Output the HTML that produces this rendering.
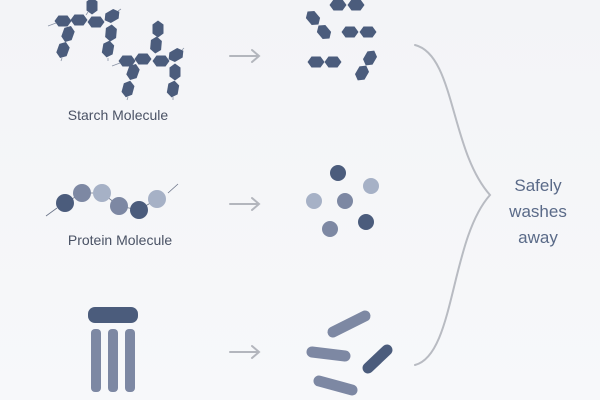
<!DOCTYPE html>
<html><head><style>body{margin:0;background:#f4f5f8;}svg{display:block}</style></head><body>
<svg width="600" height="400" viewBox="0 0 600 400" xmlns="http://www.w3.org/2000/svg">
<defs>
<linearGradient id="bg" x1="0" y1="0" x2="0" y2="1"><stop offset="0" stop-color="#f3f4f7"/><stop offset="1" stop-color="#f7f8fa"/></linearGradient>
<polygon id="h" points="-8.5,0 -4.5,-5.5 4.5,-5.5 8.5,0 4.5,5.5 -4.5,5.5" fill="#4b5c7c"/>
</defs>
<rect width="600" height="400" fill="url(#bg)"/>
<g stroke="#8a93a5" stroke-width="0.8">
<line x1="48" y1="26" x2="56" y2="23"/><line x1="86" y1="15" x2="88" y2="12"/><line x1="118" y1="11" x2="121" y2="9"/>
<line x1="108" y1="58" x2="108" y2="61"/><line x1="62" y1="58" x2="61" y2="61"/>
<line x1="112" y1="66" x2="120" y2="63"/><line x1="182" y1="50" x2="184" y2="48"/>
<line x1="128" y1="97" x2="127" y2="100"/><line x1="173" y1="97" x2="173" y2="100"/>
</g>
<g>
<use href="#h" x="63" y="21"/><use href="#h" x="79" y="20"/><use href="#h" x="96" y="22"/>
<use href="#h" transform="translate(112,16) rotate(-30)"/>
<use href="#h" transform="translate(92,6) rotate(-90)"/>
<use href="#h" transform="translate(68,34) rotate(-70)"/>
<use href="#h" transform="translate(63,50) rotate(-70)"/>
<use href="#h" transform="translate(111,33) rotate(-85)"/>
<use href="#h" transform="translate(108,49) rotate(-80)"/>
<use href="#h" x="127" y="61"/><use href="#h" x="143" y="59"/><use href="#h" x="161" y="61"/>
<use href="#h" transform="translate(176,55) rotate(-30)"/>
<use href="#h" transform="translate(158,29) rotate(-90)"/>
<use href="#h" transform="translate(156,45) rotate(-85)"/>
<use href="#h" transform="translate(133,72) rotate(-70)"/>
<use href="#h" transform="translate(128,89) rotate(-75)"/>
<use href="#h" transform="translate(175,72) rotate(-90)"/>
<use href="#h" transform="translate(173,89) rotate(-80)"/>
</g>
<g>
<use href="#h" x="338" y="5"/><use href="#h" x="356" y="5"/>
<use href="#h" transform="translate(313,18) rotate(50)"/><use href="#h" transform="translate(324,32) rotate(50)"/>
<use href="#h" x="350" y="32"/><use href="#h" x="368" y="32"/>
<use href="#h" x="316" y="62"/><use href="#h" x="333" y="62"/>
<use href="#h" transform="translate(370,58) rotate(-60)"/><use href="#h" transform="translate(362,73) rotate(-60)"/>
</g>
<text x="118" y="120" font-family="Liberation Sans, sans-serif" font-size="14" fill="#4a5265" text-anchor="middle">Starch Molecule</text>
<g stroke="#6b7488" stroke-width="0.8">
<line x1="46" y1="216" x2="57" y2="208"/><line x1="168" y1="193" x2="178" y2="184"/>
<polyline points="65,203 82,193 102,193 119,206 139,210 157,199" fill="none"/>
</g>
<circle cx="65" cy="203" r="9" fill="#4b5c7c"/>
<circle cx="82" cy="193" r="9" fill="#7d88a3"/>
<circle cx="102" cy="193" r="9" fill="#a6b1c6"/>
<circle cx="119" cy="206" r="9" fill="#7d88a3"/>
<circle cx="139" cy="210" r="9" fill="#4b5c7c"/>
<circle cx="157" cy="199" r="9" fill="#a6b1c6"/>
<text x="120" y="245" font-family="Liberation Sans, sans-serif" font-size="14" fill="#4a5265" text-anchor="middle">Protein Molecule</text>
<circle cx="338" cy="173" r="8" fill="#4b5c7c"/>
<circle cx="314" cy="201" r="8" fill="#a6b1c6"/>
<circle cx="345" cy="201" r="8" fill="#7d88a3"/>
<circle cx="371" cy="186" r="8" fill="#a6b1c6"/>
<circle cx="366" cy="222" r="8" fill="#4b5c7c"/>
<circle cx="330" cy="229" r="8" fill="#7d88a3"/>
<rect x="88" y="307" width="50" height="16" rx="7" fill="#4b5c7c"/>
<rect x="91" y="329" width="10" height="63" rx="4" fill="#7d88a3"/>
<rect x="108" y="329" width="10" height="63" rx="4" fill="#7d88a3"/>
<rect x="125" y="329" width="10" height="63" rx="4" fill="#7d88a3"/>
<g stroke-linecap="round" stroke-width="11">
<line x1="333" y1="332" x2="365" y2="316" stroke="#7d88a3"/>
<line x1="312" y1="352" x2="345" y2="356" stroke="#7d88a3"/>
<line x1="368" y1="368" x2="387" y2="350" stroke="#4b5c7c"/>
<line x1="319" y1="381" x2="352" y2="390" stroke="#7d88a3"/>
</g>
<g stroke="#b3b6bd" stroke-width="2" fill="none" stroke-linecap="round">
<path d="M230 56H259M252 50L259 56L252 62"/>
<path d="M230 204H259M252 198L259 204L252 210"/>
<path d="M230 352H259M252 346L259 352L252 358"/>
<path d="M415 45C455 55 450 150 490 195C450 240 455 355 415 365" stroke="#b8bbc2"/>
</g>
<g font-family="Liberation Sans, sans-serif" font-size="17" fill="#5a6a88" text-anchor="middle">
<text x="538" y="191">Safely</text><text x="538" y="217">washes</text><text x="538" y="243">away</text>
</g>
</svg>
</body></html>
